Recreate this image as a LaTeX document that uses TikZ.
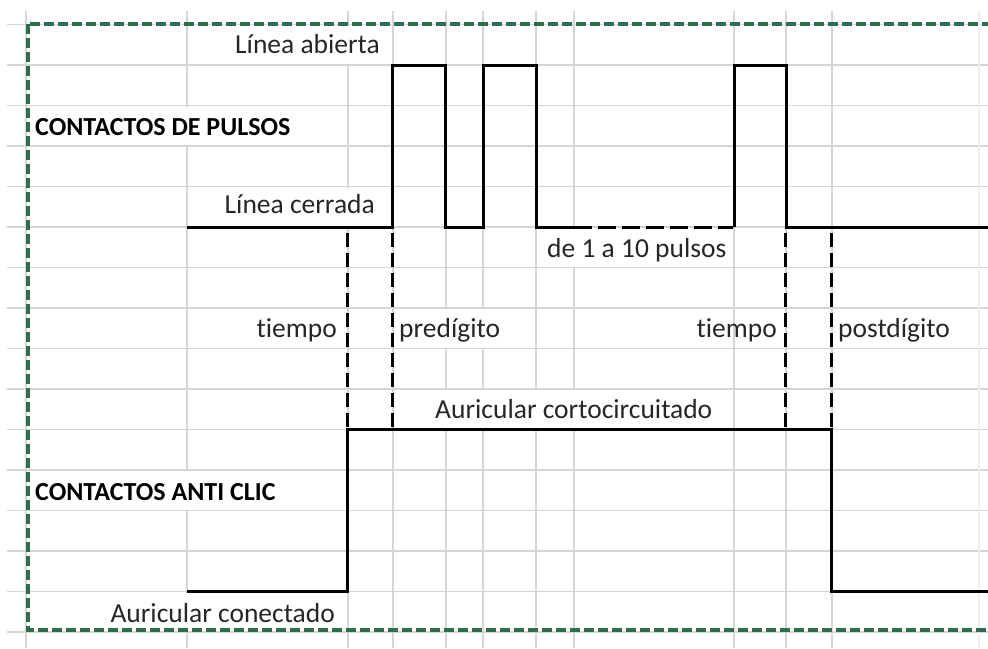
\documentclass[tikz,border=0pt]{standalone}
\usepackage{fontspec}
\setmainfont{Carlito}[Ligatures=NoCommon]
\usetikzlibrary{backgrounds}
\definecolor{gridc}{HTML}{D6D6D6}
\definecolor{bordc}{HTML}{2D6E4E}
\definecolor{txtc}{HTML}{262626}
\tikzset{
  lbl/.style={inner sep=0pt, text=txtc, font=\fontsize{27.5}{30}\selectfont},
  blbl/.style={inner sep=0pt, text=black, font=\fontsize{26}{30}\selectfont\bfseries},
  gridline/.style={draw=gridc, line width=1.4pt},
  sig/.style={draw=black, line width=3pt, line join=miter},
  sigdash/.style={draw=black, line width=3pt, dash pattern=on 18pt off 6pt},
  vdash/.style={draw=black, line width=3pt, dash pattern=on 14pt off 6pt},
  frame/.style={draw=bordc, line width=3.2pt, dash pattern=on 10pt off 4pt}
}
\begin{document}
\begin{tikzpicture}[x=1pt,y=-1pt]
\useasboundingbox (0,0) rectangle (988,648);
\clip (0,0) rectangle (988,648);
% text labels
\node[lbl, anchor=base east] (abierta) at (380,53) {Línea abierta};
\node[blbl, anchor=base west] (pulsos) at (35,135) {CONTACTOS DE PULSOS};
\node[lbl, anchor=base east] (cerrada) at (375,213) {Línea cerrada};
\node[lbl, anchor=base west] (num) at (547,257) {de 1 a 10 pulsos};
\node[lbl, anchor=base east] (t1) at (337,337) {tiempo};
\node[lbl, anchor=base west] (pre) at (399,337) {predígito};
\node[lbl, anchor=base east] (t2) at (777,337) {tiempo};
\node[lbl, anchor=base west] (post) at (838,337) {postdígito};
\node[lbl, anchor=base west] (corto) at (435,418) {Auricular cortocircuitado};
\node[blbl, anchor=base west] (anti) at (35,500) {CONTACTOS ANTI CLIC};
\node[lbl, anchor=base east] (conect) at (335,622) {Auricular conectado};
% grid on background
\begin{pgfonlayer}{background}
  \foreach \k in {0,...,15} {
    \pgfmathsetmacro{\yy}{24.5+40.5*\k}
    \draw[gridline] (7,\yy) -- (988,\yy);
  }
  \foreach \xx in {26,187,348,393,446,483,536,574,734,786,832} {
    \draw[gridline] (\xx,11) -- (\xx,648);
  }
  \draw[draw=gridc!40, line width=1.4pt] (979,11) -- (979,648);
  % masks where cell text overflows across grid lines
  \fill[white] (abierta.west |- 0,25.5) rectangle (abierta.east |- 0,64);
  \fill[white] (pulsos.west |- 0,106.5) rectangle (pulsos.east |- 0,145);
  \fill[white] (cerrada.west |- 0,187.5) rectangle (cerrada.east |- 0,226);
  \fill[white] (num.west |- 0,228) rectangle (num.east |- 0,266.5);
  \fill[white] (pre.west |- 0,309) rectangle (pre.east |- 0,347.5);
  \fill[white] (corto.west |- 0,390) rectangle (corto.east |- 0,428.5);
  \fill[white] (anti.west |- 0,471) rectangle (anti.east |- 0,509.5);
  \fill[white] (conect.west |- 0,592.5) rectangle (conect.east |- 0,631);
\end{pgfonlayer}
% outer dashed frame
\draw[frame] (28,24) rectangle (1010,630);
% pulse contacts signal
\draw[sig] (187,227) -- (392,227) -- (392,65) -- (445,65) -- (445,227) -- (483,227)
  -- (483,65) -- (536,65) -- (536,227) -- (574,227);
\draw[sigdash] (574,227) -- (733,227);
\draw[sig] (734,227) -- (734,65) -- (786,65) -- (786,227) -- (990,227);
% anti-click contacts signal
\draw[sig] (187,591.5) -- (347,591.5) -- (347,429.5) -- (831,429.5) -- (831,591.5) -- (990,591.5);
% timing markers
\draw[vdash] (347,233) -- (347,428);
\draw[vdash] (392,233) -- (392,428);
\draw[vdash] (785,233) -- (785,428);
\draw[vdash] (831,233) -- (831,428);
\end{tikzpicture}
\end{document}
